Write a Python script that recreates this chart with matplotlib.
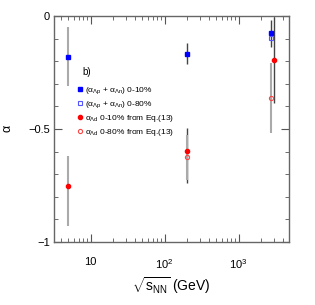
import numpy as np
import matplotlib.pyplot as plt
from matplotlib.ticker import MultipleLocator, LogLocator, NullFormatter, FixedLocator

plt.rcParams['font.family'] = ['Liberation Sans', 'DejaVu Sans']
plt.rcParams['mathtext.fontset'] = 'custom'
plt.rcParams['mathtext.rm'] = 'Liberation Sans'
plt.rcParams['mathtext.it'] = 'Liberation Sans'
plt.rcParams['axes.unicode_minus'] = True

# =========================
# DATA
# =========================
energy_010 = [4.9, 200, 2760]
lp_ln_010 = [-0.18, -0.167, -0.077]
lp_ln_010_err = [0.13, 0.047, 0.06]

energy_080 = [2760]
lp_ln_080 = [-0.099]

energy_ld_010 = [4.9, 200, 3050]
ld_010 = [-0.752, -0.596, -0.196]
ld_010_err_lo = [0.178, 0.145, 0.19]
ld_010_err_hi = [0.132, 0.10, 0.19]

energy_ld_080 = [200, 2760]
ld_080 = [-0.625, -0.364]
ld_080_err = [0.10, 0.155]

labels = [r"$(\alpha_{\Lambda p}$ + $\alpha_{\Lambda n})$ 0-10%",
          r"$(\alpha_{\Lambda p}$ + $\alpha_{\Lambda n})$ 0-80%",
          r"$\alpha_{\Lambda d}$ 0-10% from Eq.(13)",
          r"$\alpha_{\Lambda d}$ 0-80% from Eq.(13)"]

# =========================
# PLOT
# =========================
fig = plt.figure(figsize=(3.15, 3.05), dpi=100)
ax = fig.add_axes([54 / 315, 1 - 242 / 305, 235 / 315, 226 / 305])

gray = "#aaaaaa"
dark = "#444444"

# error bars (gray = thick light, dark = thin)
ax.errorbar(energy_010[0], lp_ln_010[0], yerr=lp_ln_010_err[0], fmt="none",
            ecolor=gray, elinewidth=1.5, capsize=0)
ax.errorbar(energy_010[1:], lp_ln_010[1:], yerr=lp_ln_010_err[1:], fmt="none",
            ecolor=dark, elinewidth=1.0, capsize=0)
ax.errorbar(energy_ld_010[0], ld_010[0],
            yerr=[[ld_010_err_lo[0]], [ld_010_err_hi[0]]], fmt="none",
            ecolor=gray, elinewidth=1.5, capsize=0)
ax.errorbar(energy_ld_010[1:], ld_010[1:],
            yerr=[ld_010_err_lo[1:], ld_010_err_hi[1:]], fmt="none",
            ecolor=dark, elinewidth=1.0, capsize=0)
ax.errorbar(energy_ld_080, ld_080, yerr=ld_080_err, fmt="none",
            ecolor=gray, elinewidth=1.5, capsize=0)

ms = 3
h1, = ax.plot(energy_010, lp_ln_010, "s", color="#0000ff", ms=ms, label=labels[0])
h2, = ax.plot(energy_080, lp_ln_080, "s", mfc="none", mec="#5555ff", mew=0.8, ms=ms,
              label=labels[1])
h3, = ax.plot(energy_ld_010, ld_010, "o", color="#ff0000", ms=ms, label=labels[2])
h4, = ax.plot(energy_ld_080, ld_080, "o", mfc="none", mec="#ff4444", mew=0.8, ms=ms,
              label=labels[3])

ax.set_xscale("log")
ax.set_xlim(3.2, 4800)
ax.set_ylim(-1, 0)

ax.yaxis.set_major_locator(FixedLocator([-1, -0.5, 0]))
ax.yaxis.set_minor_locator(MultipleLocator(0.1))
ax.set_yticklabels(["\u22121", "\u22120.5", "0"])
ax.xaxis.set_major_locator(FixedLocator([10, 100, 1000]))
ax.set_xticklabels(["10", r"$10^2$", r"$10^3$"])
ax.xaxis.set_minor_locator(LogLocator(base=10, subs=np.arange(2, 10)))
ax.xaxis.set_minor_formatter(NullFormatter())

ax.tick_params(which="both", direction="in", top=True, right=True,
               labelsize=8, color="#555555")
ax.tick_params(axis="y", pad=3)
ax.tick_params(axis="x", pad=11)
ax.tick_params(which="major", length=6)
ax.tick_params(which="minor", length=3)
for s in ax.spines.values():
    s.set_color("#666666")
    s.set_linewidth(1.0)

ax.set_ylabel(r"$\alpha$", fontsize=9)
ax.yaxis.set_label_coords(-40 / 235, 0.5)
ax.set_xlabel(r"$\sqrt{s_{\rm NN}}$ (GeV)", fontsize=10, labelpad=3)

ax.text(82 / 315, 1 - 72 / 305, "b)", transform=fig.transFigure, fontsize=7,
        va="center")
fig.legend(handles=[h1, h2, h3, h4], loc="upper left",
           bbox_to_anchor=(76 / 315, 1 - 85 / 305), frameon=False,
           fontsize=6, handletextpad=0.2, handlelength=0.9,
           labelspacing=0.38, borderaxespad=0, borderpad=0)

plt.savefig("out.png", dpi=100)
plt.close()
